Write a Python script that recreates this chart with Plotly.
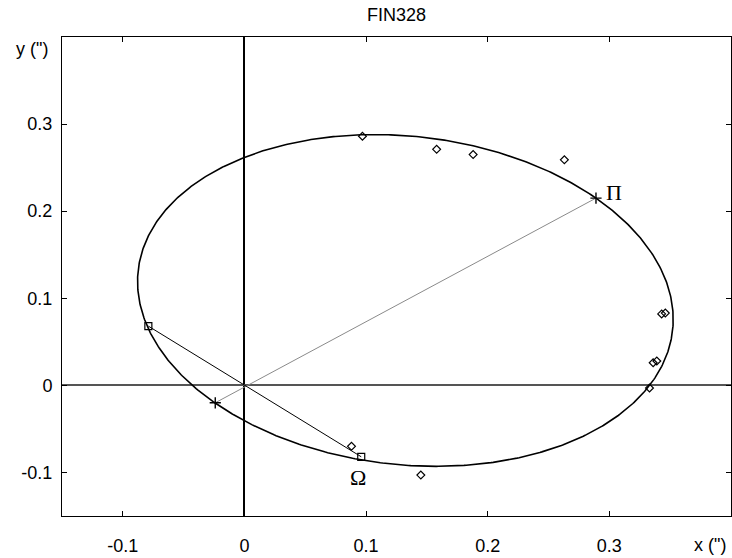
import numpy as np
import plotly.graph_objects as go

# Observed relative positions (diamonds)
obs_x = [0.097, 0.158, 0.188, 0.263, 0.343, 0.346, 0.336, 0.339, 0.333, 0.088, 0.145]
obs_y = [0.286, 0.271, 0.265, 0.259, 0.082, 0.083, 0.026, 0.028, -0.003, -0.070, -0.103]

# Periastron line end points (+ markers) and node line end points (squares)
apsis_x = [0.289, -0.024]
apsis_y = [0.215, -0.020]
node_x = [-0.079, 0.096]
node_y = [0.068, -0.082]

# Apparent orbit: centre and two conjugate half-diameters
orbit_center = (0.1323, 0.0975)
orbit_u = (0.1567, 0.1175)
orbit_v = (0.1547, -0.1499)

x_ticks = [-0.1, 0, 0.1, 0.2, 0.3]
x_ticktext = ["-0.1", "0", "0.1", "0.2", "0.3"]
y_ticks = [-0.1, 0, 0.1, 0.2, 0.3]
y_ticktext = ["-0.1", "0", "0.1", "0.2", "0.3"]

t = np.linspace(0, 2 * np.pi, 721)
ex = orbit_center[0] + orbit_u[0] * np.cos(t) + orbit_v[0] * np.sin(t)
ey = orbit_center[1] + orbit_u[1] * np.cos(t) + orbit_v[1] * np.sin(t)

FONT = "Liberation Sans, Arial, sans-serif"
SERIF = "Liberation Serif, Times New Roman, serif"

W, H = 732, 558
L, R, T, B = 62, 1, 37, 42
pw, ph = W - L - R, H - T - B

fig = go.Figure()
fig.add_trace(go.Scatter(x=ex, y=ey, mode="lines",
                         line=dict(color="black", width=1.6), hoverinfo="skip"))
fig.add_trace(go.Scatter(x=apsis_x, y=apsis_y, mode="lines",
                         line=dict(color="#8a8a8a", width=1)))
fig.add_trace(go.Scatter(x=apsis_x, y=apsis_y, mode="markers",
                         marker=dict(symbol="cross-thin-open", size=8, color="black",
                                     line=dict(color="black", width=1.4))))
fig.add_trace(go.Scatter(x=node_x, y=node_y, mode="lines+markers",
                         line=dict(color="black", width=1),
                         marker=dict(symbol="square-open", size=7, color="black",
                                     line=dict(color="black", width=1.2))))
fig.add_trace(go.Scatter(x=obs_x, y=obs_y, mode="markers",
                         marker=dict(symbol="diamond-open", size=6, color="black",
                                     line=dict(color="black", width=1.2))))

fig.add_annotation(x=0.3036, y=0.221, text="Π", showarrow=False,
                   font=dict(family=SERIF, size=22, color="black"))
fig.add_annotation(x=0.093, y=-0.106, text="Ω", showarrow=False,
                   font=dict(family=SERIF, size=22, color="black"))
fig.add_annotation(x=(710 - L) / pw, y=(H - B - 545) / ph, xref="paper", yref="paper",
                   xanchor="center", yanchor="middle", text='x (")',
                   showarrow=False, font=dict(family=FONT, size=18, color="black"))
fig.add_annotation(x=(32 - L) / pw, y=(H - B - 49) / ph, xref="paper", yref="paper",
                   xanchor="center", yanchor="middle", text='y (")',
                   showarrow=False, font=dict(family=FONT, size=18, color="black"))

axis_common = dict(showgrid=False, showline=True, mirror="ticks", linecolor="black",
                   linewidth=1, ticks="inside", ticklen=5, tickcolor="black",
                   tickfont=dict(family=FONT, size=18, color="black"))
fig.update_xaxes(range=[-0.15, 0.4], tickvals=x_ticks, ticktext=x_ticktext,
                 zeroline=True, zerolinecolor="black", zerolinewidth=2,
                 ticklabelstandoff=13, **axis_common)
fig.update_yaxes(range=[-0.15, 0.4], tickvals=y_ticks, ticktext=y_ticktext,
                 zeroline=True, zerolinecolor="#555555", zerolinewidth=2,
                 ticklabelstandoff=5, **axis_common)

fig.update_layout(
    width=W, height=H,
    margin=dict(l=L, r=R, t=T, b=B),
    paper_bgcolor="white", plot_bgcolor="white",
    showlegend=False,
    title=dict(text="FIN328", x=(L + pw / 2) / W, xanchor="center",
               y=1 - 15 / H, yanchor="middle",
               font=dict(family=FONT, size=18, color="black")),
)

fig.write_html("out.html",
               config={"displayModeBar": False},
               post_script="document.body.style.margin='0';"
                           "document.body.style.overflow='hidden';")
